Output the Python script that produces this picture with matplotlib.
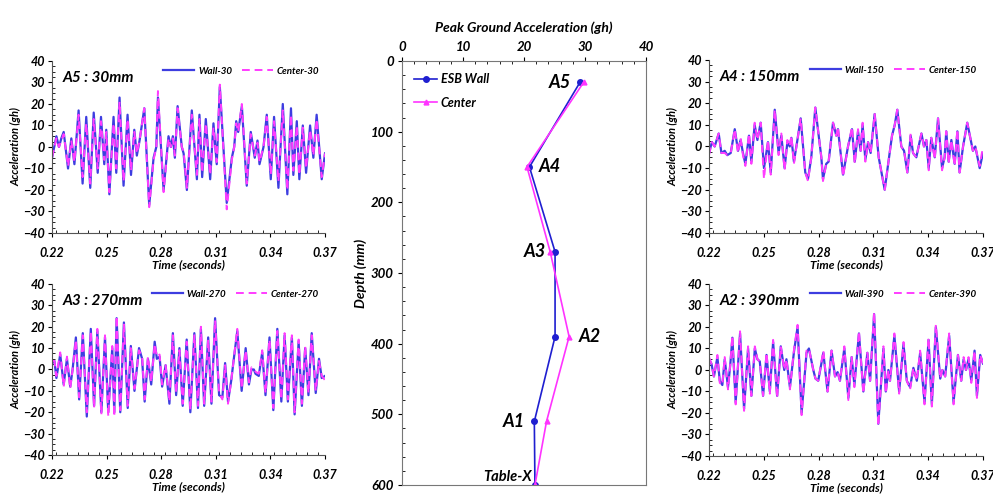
import matplotlib
matplotlib.use("Agg")
import matplotlib.pyplot as plt
from matplotlib.ticker import MultipleLocator

plt.rcParams['font.family'] = ['Lato', 'DejaVu Sans']
plt.rcParams['font.weight'] = 'bold'
plt.rcParams['font.style'] = 'italic'
plt.rcParams['axes.labelweight'] = 'bold'

# ---- peak ground acceleration profile ----
depth = [30, 150, 270, 390, 510, 600]
pga_wall = [29.2, 20.9, 25.1, 25.1, 21.7, 21.8]
pga_center = [29.8, 20.5, 24.3, 27.4, 23.7, 21.8]
point_names = ['A5', 'A4', 'A3', 'A2', 'A1', 'Table-X']

# ---- A5 : 30mm ----
t_a5 = [0.2200, 0.2224, 0.2238, 0.2251, 0.2264, 0.2288, 0.2306, 0.2323, 0.2346, 0.2368,
        0.2388, 0.2410, 0.2429, 0.2451, 0.2469, 0.2487, 0.2498, 0.2515, 0.2538, 0.2553,
        0.2571, 0.2593, 0.2615, 0.2634, 0.2652, 0.2666, 0.2681, 0.2707, 0.2734, 0.2758,
        0.2773, 0.2782, 0.2813, 0.2840, 0.2853, 0.2864, 0.2875, 0.2890, 0.2913, 0.2923,
        0.2941, 0.2968, 0.2996, 0.3010, 0.3025, 0.3045, 0.3069, 0.3087, 0.3105, 0.3122,
        0.3160, 0.3188, 0.3201, 0.3212, 0.3223, 0.3243, 0.3270, 0.3292, 0.3314, 0.3329,
        0.3340, 0.3362, 0.3380, 0.3402, 0.3420, 0.3444, 0.3468, 0.3493, 0.3513, 0.3526,
        0.3545, 0.3559, 0.3578, 0.3596, 0.3618, 0.3636, 0.3654, 0.3682, 0.3700]
wall_a5 = [-5, 5, 0, 4, 7, -10, 4, -8, 17, -17,
           14, -19, 16, -12, 14, -8, 8, -22, 14, -12,
           23, -18, 15, -13, 8, -4, 3, 18, -27, -5,
           0, 23, -20, 5, 0, 5, -5, 19, 0, -3,
           -20, 17, -15, 15, -14, 13, -15, 11, -8, 28,
           -26, -5, 0, 12, 7, 19, -18, 7, -5, 3,
           -8, 0, 15, -15, 14, -19, 20, -22, 18, -13,
           12, -15, 10, -12, 10, -5, 15, -15, -3]
center_a5 = [-5, 4, 0, 3, 6, -9, 3, -7, 15, -14,
             11, -17, 13, -10, 12, -6, 7, -21, 11, -10,
             21, -16, 13, -11, 7, -3, 3, 18, -28, -6,
             0, 26, -21, 4, 0, 4, -4, 18, 0, -2,
             -19, 15, -13, 13, -12, 11, -13, 9, -7, 29,
             -29, -6, 0, 11, 7, 20, -17, 6, -4, 2,
             -7, 0, 14, -13, 12, -16, 17, -20, 15, -11,
             10, -13, 9, -10, 8, -4, 13, -14, -3]

# ---- A4 : 150mm ----
t_a4 = [0.2200, 0.2216, 0.2231, 0.2253, 0.2268, 0.2286, 0.2300, 0.2319, 0.2341, 0.2359,
        0.2373, 0.2386, 0.2399, 0.2419, 0.2432, 0.2450, 0.2465, 0.2483, 0.2501, 0.2523,
        0.2538, 0.2560, 0.2581, 0.2596, 0.2614, 0.2629, 0.2642, 0.2651, 0.2665, 0.2684,
        0.2702, 0.2727, 0.2742, 0.2760, 0.2782, 0.2815, 0.2824, 0.2842, 0.2855, 0.2879,
        0.2897, 0.2906, 0.2934, 0.2961, 0.2983, 0.2998, 0.3016, 0.3030, 0.3041, 0.3056,
        0.3071, 0.3085, 0.3107, 0.3129, 0.3162, 0.3189, 0.3202, 0.3217, 0.3231, 0.3253,
        0.3268, 0.3286, 0.3304, 0.3317, 0.3335, 0.3363, 0.3377, 0.3390, 0.3403, 0.3417,
        0.3436, 0.3454, 0.3476, 0.3490, 0.3499, 0.3512, 0.3527, 0.3545, 0.3560, 0.3572,
        0.3591, 0.3614, 0.3633, 0.3645, 0.3658, 0.3682, 0.3700]
wall_a4 = [-3, 2, 0, 6, -3, -2, -4, -3, 8, -2,
           3, -3, -8, 5, -7, 10, 3, 11, -10, 2,
           -12, 17, -3, 5, -10, 2, 0, 4, -7, 3,
           13, -12, -15, -5, 18, -5, -15, -8, -7, 11,
           5, 8, -13, 0, 8, -7, 7, -2, 10, -6,
           2, -3, 15, -5, -20, -3, 5, 10, 17, 0,
           -2, -12, 5, -3, -5, 6, 0, 3, -10, 4,
           -5, 13, -10, -5, 7, -7, 3, -8, 7, -12,
           0, 11, 3, -2, 0, -10, -3]
center_a4 = [-4, 2, 0, 6, -3, -3, -4, -3, 8, -3,
             4, -4, -9, 6, -8, 11, 3, 11, -15, 3,
             -13, 17, -4, 6, -11, 3, 0, 5, -8, 3,
             13, -12, -16, -5, 18, -5, -16, -8, -7, 11,
             5, 9, -14, 0, 9, -8, 8, -2, 11, -7,
             2, -3, 15, -5, -20, -3, 5, 10, 17, 0,
             -2, -12, 6, -3, -5, 6, 0, 3, -11, 4,
             -6, 13, -11, -5, 7, -8, 3, -9, 8, -12,
             0, 11, 3, -2, 0, -9, 0]

# ---- A3 : 270mm ----
t_a3 = [0.2200, 0.2213, 0.2224, 0.2245, 0.2264, 0.2282, 0.2300, 0.2313, 0.2331, 0.2349,
        0.2369, 0.2391, 0.2413, 0.2431, 0.2449, 0.2471, 0.2491, 0.2509, 0.2531, 0.2542,
        0.2555, 0.2575, 0.2595, 0.2616, 0.2633, 0.2653, 0.2678, 0.2695, 0.2709, 0.2727,
        0.2745, 0.2764, 0.2776, 0.2791, 0.2805, 0.2824, 0.2845, 0.2864, 0.2882, 0.2900,
        0.2918, 0.2940, 0.2960, 0.2982, 0.3002, 0.3018, 0.3036, 0.3058, 0.3076, 0.3096,
        0.3118, 0.3136, 0.3151, 0.3167, 0.3185, 0.3196, 0.3218, 0.3242, 0.3264, 0.3282,
        0.3296, 0.3309, 0.3318, 0.3336, 0.3355, 0.3373, 0.3395, 0.3416, 0.3438, 0.3460,
        0.3478, 0.3496, 0.3518, 0.3533, 0.3555, 0.3573, 0.3591, 0.3609, 0.3627, 0.3649,
        0.3667, 0.3682, 0.3700]
wall_a3 = [3, 4, -4, 7, -7, 5, -8, 0, 15, -14,
           17, -22, 19, -17, 18, -20, 15, -20, 10, -20,
           24, -20, 22, -18, 11, -10, 10, 5, -15, 5,
           -7, 13, 5, 6, -8, 2, -16, 17, -12, 10,
           -17, 14, -20, 17, -18, 19, -17, 15, -16, 24,
           -12, -13, 3, -15, -5, 3, 18, -10, 10, -7,
           0, 0, -2, -3, 8, -12, 15, -19, 19, -15,
           16, -15, 15, -21, 13, -17, 10, -12, 17, -11,
           5, -4, -3]
center_a3 = [4, 4, -3, 8, -8, 6, -9, 0, 14, -13,
             16, -20, 18, -18, 19, -21, 16, -22, 11, -22,
             25, -19, 21, -17, 10, -9, 9, 6, -14, 6,
             -6, 12, 6, 7, -7, 2, -15, 16, -11, 9,
             -16, 13, -19, 16, -17, 20, -16, 14, -15, 23,
             -11, -14, 2, -16, -5, 3, 19, -9, 9, -6,
             1, 0, -1, -2, 9, -11, 14, -18, 18, -14,
             17, -14, 16, -20, 14, -16, 11, -11, 16, -10,
             4, -3, -5]

# ---- A2 : 390mm ----
t_a2 = [0.2200, 0.2213, 0.2227, 0.2246, 0.2259, 0.2273, 0.2286, 0.2304, 0.2317, 0.2328,
        0.2346, 0.2370, 0.2392, 0.2414, 0.2432, 0.2451, 0.2465, 0.2478, 0.2496, 0.2515,
        0.2533, 0.2551, 0.2573, 0.2593, 0.2612, 0.2624, 0.2643, 0.2666, 0.2685, 0.2707,
        0.2734, 0.2747, 0.2771, 0.2783, 0.2798, 0.2826, 0.2849, 0.2871, 0.2890, 0.2904,
        0.2917, 0.2941, 0.2963, 0.2981, 0.2996, 0.3021, 0.3045, 0.3067, 0.3082, 0.3104,
        0.3127, 0.3155, 0.3168, 0.3182, 0.3191, 0.3215, 0.3241, 0.3265, 0.3283, 0.3301,
        0.3319, 0.3338, 0.3356, 0.3380, 0.3402, 0.3420, 0.3442, 0.3466, 0.3478, 0.3493,
        0.3515, 0.3539, 0.3563, 0.3581, 0.3594, 0.3607, 0.3621, 0.3636, 0.3654, 0.3667,
        0.3685, 0.3700]
wall_a2 = [5, 3, -3, 6, -5, -7, 5, -8, 3, 15,
           -15, 17, -18, 10, -12, 10, 5, 4, -12, 7,
           -10, 13, -12, 11, 0, 5, -8, 9, 20, -20,
           8, 10, 0, -4, -5, 8, -10, 9, -3, -1,
           -5, 10, -13, 6, -7, 17, -10, 8, -5, 26,
           -25, 10, -10, 0, -5, 16, -10, 12, -5, -8,
           1, -5, 8, -15, 14, -16, 20, -4, 0, -3,
           16, -15, 7, -5, 5, 0, 5, -5, 9, -12,
           7, 3]
center_a2 = [6, 3, -3, 7, -6, -7, 6, -9, 3, 16,
             -16, 18, -19, 11, -12, 11, 5, 4, -12, 8,
             -11, 14, -13, 11, 0, 5, -9, 10, 21, -21,
             9, 10, 0, -4, -5, 9, -10, 9, -3, -1,
             -5, 11, -14, 6, -8, 18, -11, 8, -5, 27,
             -26, 11, -11, 0, -5, 17, -11, 13, -5, -9,
             1, -5, 9, -16, 15, -17, 21, -4, 0, -3,
             17, -16, 7, -5, 6, 0, 6, -6, 9, -13,
             7, 3]

WALL_BLUE = '#3d3de0'
CENTER_PINK = '#ff3cff'


def time_panel(rect, t, wall, center, title, tag):
    ax = fig.add_axes(rect)
    ax.plot(t, wall, color=WALL_BLUE, lw=1.6, label='Wall-' + tag)
    ax.plot(t, center, color=CENTER_PINK, lw=1.4, ls=(0, (4, 2.5)), label='Center-' + tag)
    ax.set_xlim(0.22, 0.37)
    ax.set_ylim(-40, 40)
    ax.set_xticks([0.22, 0.25, 0.28, 0.31, 0.34, 0.37])
    ax.set_xticklabels(['0.22', '0.25', '0.28', '0.31', '0.34', '0.37'])
    ax.set_yticks(range(-40, 41, 10))
    ax.xaxis.set_minor_locator(MultipleLocator(0.006))
    ax.yaxis.set_minor_locator(MultipleLocator(2.5))
    ax.tick_params(which='major', direction='out', length=3, labelsize=9, pad=2)
    ax.tick_params(which='minor', direction='in', length=2)
    ax.tick_params(axis='x', pad=7)
    for s in ['top', 'right']:
        ax.spines[s].set_visible(False)
    for s in ['left', 'bottom']:
        ax.spines[s].set_color('#555555')
    ax.set_xlabel('Time (seconds)', fontsize=8.5, labelpad=0)
    ax.set_ylabel('Acceleration (gh)', fontsize=8, labelpad=1)
    ax.text(0.04, 0.88, title, transform=ax.transAxes, fontsize=11)
    ax.legend(loc='upper right', ncol=2, frameon=False, fontsize=7,
              handlelength=3.2, columnspacing=1.0, handletextpad=0.4,
              borderaxespad=0.2)
    return ax


fig = plt.figure(figsize=(9.93, 4.97), dpi=100)

time_panel([0.0524, 0.5312, 0.2749, 0.3461], t_a5, wall_a5, center_a5, 'A5 : 30mm', '30')
time_panel([0.0524, 0.0845, 0.2749, 0.3441], t_a3, wall_a3, center_a3, 'A3 : 270mm', '270')
time_panel([0.7140, 0.5312, 0.2759, 0.3481], t_a4, wall_a4, center_a4, 'A4 : 150mm', '150')
time_panel([0.7140, 0.0825, 0.2759, 0.3461], t_a2, wall_a2, center_a2, 'A2 : 390mm', '390')

# depth profile in the middle
ax = fig.add_axes([0.4048, 0.0241, 0.2457, 0.8532])
ax.plot(pga_wall, depth, color='#1f1fd0', lw=1.2, marker='o', ms=4, label='ESB Wall')
ax.plot(pga_center, depth, color='#ff33ff', lw=1.2, marker='^', ms=3.5, label='Center')
ax.set_xlim(0, 40)
ax.set_ylim(600, 0)
ax.xaxis.tick_top()
ax.xaxis.set_label_position('top')
ax.set_xticks(range(0, 41, 10))
ax.set_yticks(range(0, 601, 100))
ax.xaxis.set_minor_locator(MultipleLocator(2))
ax.yaxis.set_minor_locator(MultipleLocator(20))
ax.tick_params(which='major', direction='out', length=3, labelsize=9.5, pad=3)
ax.tick_params(which='minor', direction='in', length=2)
for s in ax.spines.values():
    s.set_color('#777777')
ax.set_xlabel('Peak Ground Acceleration (gh)', fontsize=10, labelpad=6)
ax.set_ylabel('Depth (mm)', fontsize=10, labelpad=3)
ax.legend(loc='upper left', frameon=False, fontsize=9, handlelength=1.8,
          handletextpad=0.3, labelspacing=0.9, borderaxespad=0.6)

label_spots = [(-1.5, 0, 'right'), (1.5, 0, 'left'), (-1.5, 0, 'right'),
               (1.5, 0, 'left'), (-1.5, 0, 'right'), (-0.5, -12, 'right')]
for name, x, d, (dx, dy, ha) in zip(point_names, pga_wall, depth, label_spots):
    if name == 'A2':
        x = pga_center[3]
    ax.text(x + dx, d + dy, name, ha=ha, va='center',
            fontsize=13 if name != 'Table-X' else 10.5)

fig.savefig('out.png', dpi=100)
